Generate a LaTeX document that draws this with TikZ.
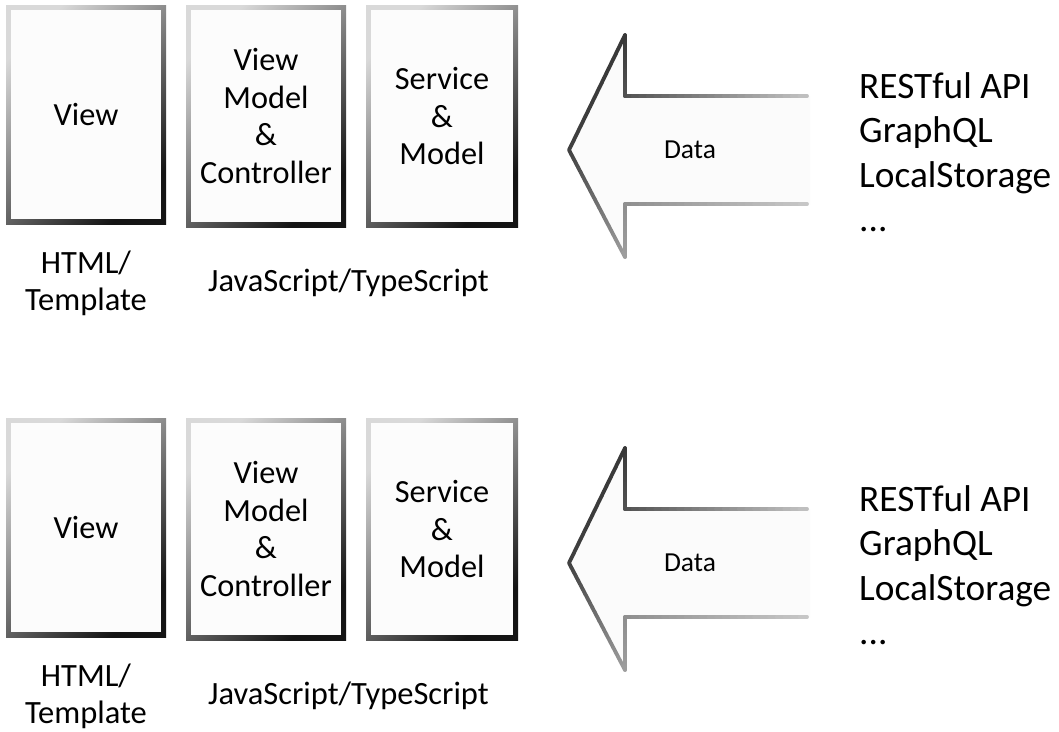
\documentclass[tikz,border=0pt]{standalone}
\usepackage{fontspec}
\setmainfont{Carlito}
\usetikzlibrary{calc}
\tikzset{
  box/.style={align=center, inner sep=0pt,
    top color=white!85!black, bottom color=black!92, shading angle=45,
    font=\fontsize{32.3}{37.8}\selectfont,
    path picture={\fill[white!99!black]
      ([shift={(4.8pt,-4.8pt)}]path picture bounding box.north west) rectangle
      ([shift={(-4.8pt,4.8pt)}]path picture bounding box.south east);}},
  lbl/.style={align=center, inner sep=0pt, font=\fontsize{32.5}{37}\selectfont},
  srclbl/.style={align=left, anchor=west, inner sep=0pt, font=\fontsize{37.3}{44.5}\selectfont},
  datalbl/.style={inner sep=0pt, font=\fontsize{27.5}{30}\selectfont},
  arrowfill/.style={fill=white!98.5!black},
  arrowline/.style={line width=3.8pt, line cap=round}
}
\newcommand\gseg[4]{%
  \foreach \k in {0,...,23}{%
    \pgfmathsetmacro\gp{#3+(#4-#3)*(\k+0.5)/24}%
    \pgfmathsetmacro\ka{\k/24}%
    \pgfmathsetmacro\kb{(\k+1)/24}%
    \draw[arrowline, draw=white!\gp!black] ($(#1)!\ka!(#2)$) -- ($(#1)!\kb!(#2)$);
  }}
\begin{document}
\begin{tikzpicture}[x=1pt,y=-1pt]
\useasboundingbox[fill=white] (0,0) rectangle (1059,731);
\foreach \s/\dy in {a/0,b/413}{
\begin{scope}[yshift=-\dy pt]
  % boxes
  \node[box, minimum width=160pt, minimum height=219pt] (view\s) at (86,114.5) {View};
  \node[box, minimum width=160pt, minimum height=222pt] (vmc\s) at (266,116) {View\\Model\\\&\\Controller};
  \node[box, minimum width=152pt, minimum height=222pt] (svc\s) at (442,116) {Service\\\&\\Model};
  \node[lbl] (html\s) at (86,283) {HTML/\\Template};
  \node[lbl] (js\s) at (348.5,283) {JavaScript/TypeScript};
  % arrow
  \coordinate (tip\s) at (569,150);
  \coordinate (uc\s) at (625,35);
  \coordinate (ust\s) at (625,96);
  \coordinate (usr\s) at (807,96);
  \coordinate (lsr\s) at (807,204);
  \coordinate (lst\s) at (625,204);
  \coordinate (lc\s) at (625,257);
  \fill[arrowfill] (tip\s) -- (uc\s) -- (ust\s) -- ([xshift=3pt]usr\s) -- ([xshift=3pt]lsr\s) -- (lst\s) -- (lc\s) -- cycle;
  \gseg{ust\s}{usr\s}{32}{76}
  \gseg{uc\s}{ust\s}{22}{32}
  \gseg{tip\s}{uc\s}{25}{22}
  \gseg{tip\s}{lc\s}{25}{62}
  \gseg{lc\s}{lst\s}{62}{56}
  \gseg{lst\s}{lsr\s}{56}{78}
  \node[datalbl] (data\s) at (690,150) {Data};
  \node[srclbl] (src\s) at (859,152) {RESTful API\\GraphQL\\LocalStorage\\...};
\end{scope}
}
\end{tikzpicture}
\end{document}
